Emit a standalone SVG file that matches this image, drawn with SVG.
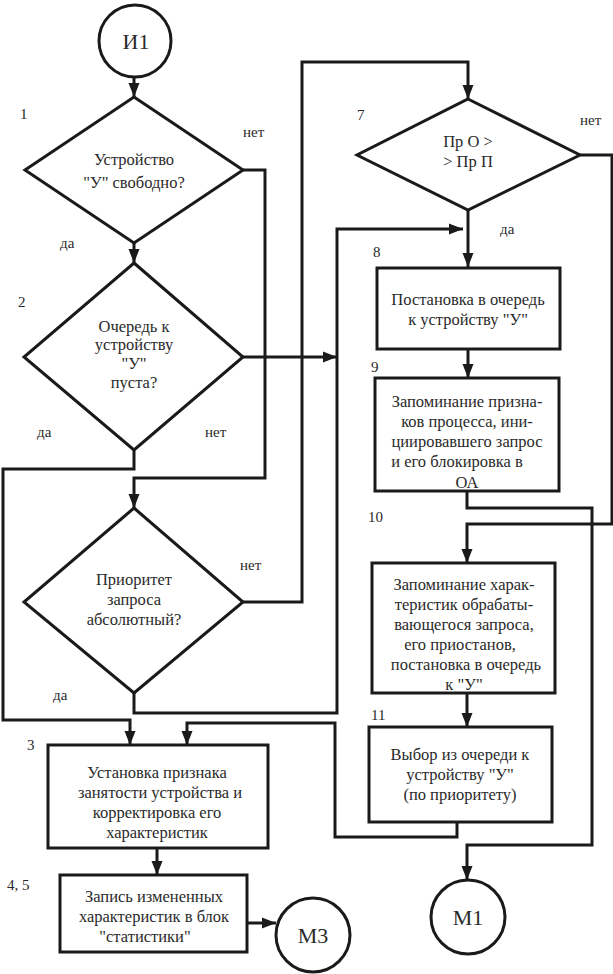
<svg xmlns="http://www.w3.org/2000/svg" width="613" height="974" viewBox="0 0 613 974">
<style>
.s{fill:#fff;stroke:#1a1a1a;stroke-width:3}
.c{fill:none;stroke:#1a1a1a;stroke-width:3}
text{fill:#2a2a2a}
.t{font-size:16.5px;text-anchor:middle}
.l{font-size:15px}
.k{font-size:22px;text-anchor:middle}
</style>
<defs>
<marker id="a" markerUnits="userSpaceOnUse" markerWidth="16" markerHeight="14" refX="14" refY="7" orient="auto">
<path d="M0,1.5 L14,7 L0,12.5 Z" fill="#1a1a1a"/>
</marker>
</defs>
<rect width="613" height="974" fill="#fff"/>
<g id="connectors">
<path class="c" d="M134,77 V97" marker-end="url(#a)"/>
<path class="c" d="M134,243 V263" marker-end="url(#a)"/>
<path class="c" d="M243,170 H265 V478 H134 V508" marker-end="url(#a)"/>
<path class="c" d="M134,450 V469 H3 V720 H130 V745" marker-end="url(#a)"/>
<path class="c" d="M243,357 H337" marker-end="url(#a)"/>
<path class="c" d="M243,602 H302 V62 H468 V99" marker-end="url(#a)"/>
<path class="c" d="M134,693 V713 H337 V229 H463" marker-end="url(#a)"/>
<path class="c" d="M468,210 V267" marker-end="url(#a)"/>
<path class="c" d="M580,155 H612 V524 H467 V563" marker-end="url(#a)"/>
<path class="c" d="M468,349 V378" marker-end="url(#a)"/>
<path class="c" d="M467,491 V508 H592 V845 H467 V880" marker-end="url(#a)"/>
<path class="c" d="M467,693 V727" marker-end="url(#a)"/>
<path class="c" d="M457,822 V837 H335 V723 H187 V745" marker-end="url(#a)"/>
<path class="c" d="M157,848 V875" marker-end="url(#a)"/>
<path class="c" d="M247,923 H276" marker-end="url(#a)"/>
</g>
<g font-family="Liberation Serif, serif">
<g id="I1">
<circle class="s" cx="135" cy="41" r="36"/>
<text class="k" x="136" y="49">И1</text>
</g>
<g id="d1">
<polygon class="s" points="134,97 243,170 134,243 25,170"/>
<text class="t" x="134" y="165">Устройство</text>
<text class="t" x="134" y="188">"У" свободно?</text>
<text class="l" x="20" y="119">1</text>
<text class="l" x="243" y="137">нет</text>
<text class="l" x="60" y="248">да</text>
</g>
<g id="d2">
<polygon class="s" points="134,263 243,357 134,450 24,357"/>
<text class="t" x="134" y="332">Очередь к</text>
<text class="t" x="134" y="350">устройству</text>
<text class="t" x="134" y="369">"У"</text>
<text class="t" x="134" y="388">пуста?</text>
<text class="l" x="18" y="307">2</text>
<text class="l" x="37" y="437">да</text>
<text class="l" x="205" y="437">нет</text>
</g>
<g id="d3">
<polygon class="s" points="134,508 243,602 134,693 24,602"/>
<text class="t" x="134" y="585">Приоритет</text>
<text class="t" x="134" y="605">запроса</text>
<text class="t" x="134" y="625">абсолютный?</text>
<text class="l" x="240" y="570">нет</text>
<text class="l" x="53" y="700">да</text>
</g>
<g id="d7">
<polygon class="s" points="468,99 580,155 468,210 357,155"/>
<text class="t" x="468" y="147">Пр О &gt;</text>
<text class="t" x="468" y="167">&gt; Пр П</text>
<text class="l" x="357" y="120">7</text>
<text class="l" x="580" y="125">нет</text>
<text class="l" x="500" y="234">да</text>
</g>
<g id="b8">
<rect class="s" x="377" y="268" width="183" height="81"/>
<text class="t" x="468" y="305">Постановка в очередь</text>
<text class="t" x="468" y="325">к устройству "У"</text>
<text class="l" x="373" y="257">8</text>
</g>
<g id="b9">
<rect class="s" x="375" y="378" width="184" height="113"/>
<text class="t" x="467" y="407">Запоминание призна-</text>
<text class="t" x="467" y="427">ков процесса, ини-</text>
<text class="t" x="467" y="447">циировавшего запрос</text>
<text class="t" x="457" y="467">и его блокировка в</text>
<text class="t" x="467" y="488">ОА</text>
<text class="l" x="371" y="372">9</text>
</g>
<g id="b10">
<rect class="s" x="372" y="563" width="183" height="130"/>
<text class="t" x="464" y="590">Запоминание харак-</text>
<text class="t" x="464" y="610">теристик обрабаты-</text>
<text class="t" x="464" y="630">вающегося запроса,</text>
<text class="t" x="460" y="650">его приостанов,</text>
<text class="t" x="466" y="670">постановка в очередь</text>
<text class="t" x="464" y="690">к "У"</text>
<text class="l" x="368" y="522">10</text>
</g>
<g id="b11">
<rect class="s" x="369" y="727" width="183" height="95"/>
<text class="t" x="460" y="760">Выбор из очереди к</text>
<text class="t" x="460" y="780">устройству "У"</text>
<text class="t" x="460" y="800">(по приоритету)</text>
<text class="l" x="371" y="720">11</text>
</g>
<g id="b3">
<rect class="s" x="48" y="745" width="220" height="103"/>
<text class="t" x="157" y="778">Установка признака</text>
<text class="t" x="160" y="798">занятости устройства и</text>
<text class="t" x="157" y="818">корректировка его</text>
<text class="t" x="157" y="838">характеристик</text>
<text class="l" x="27" y="750">3</text>
</g>
<g id="b4">
<rect class="s" x="60" y="875" width="187" height="77"/>
<text class="t" x="154" y="902">Запись измененных</text>
<text class="t" x="154" y="922">характеристик в блок</text>
<text class="t" x="145" y="942">"статистики"</text>
<text class="l" x="7" y="890">4, 5</text>
</g>
<g id="M3">
<circle class="s" cx="313" cy="935" r="37"/>
<text class="k" x="313" y="943">М3</text>
</g>
<g id="M1">
<circle class="s" cx="468" cy="917" r="37"/>
<text class="k" x="468" y="925">М1</text>
</g>
</g>
</svg>
